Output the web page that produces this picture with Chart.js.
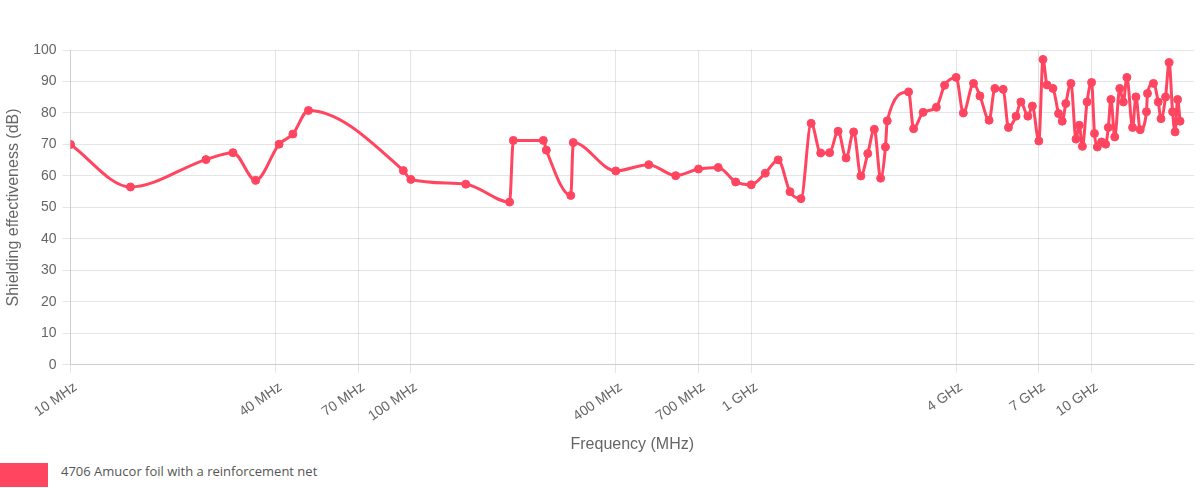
<!DOCTYPE html>
<html>
<head>
<meta charset="utf-8">
<script src="https://cdn.jsdelivr.net/npm/chart.js@4/dist/chart.umd.min.js"></script>
<style>
    html, body { margin: 0; padding: 0; background: #fff; }
    #wrap { width: 1200px; height: 458px; position: relative; }
    #legend { display: flex; align-items: flex-start; margin-top: 5px; height: 24px;
              font-family: 'Open Sans', sans-serif; font-size: 13px; line-height: 16px; color: #555; }
    #legend .box { width: 48px; height: 24px; margin-right: 13px; }
</style>
</head>
<body>
<div id="wrap"><canvas id="seChart"></canvas></div>
<div id="legend"></div>
<script>
// frequency in MHz, shielding effectiveness in dB
const frequencies = [
    10, 15, 25, 30, 35, 41, 45, 50, 95, 100,
    145, 195, 200, 245, 250, 295, 300, 400, 500, 600,
    700, 800, 900, 1000, 1100, 1200, 1300, 1400, 1500, 1600,
    1700, 1800, 1900, 2000, 2100, 2200, 2300, 2400, 2480, 2510,
    2900, 3000, 3200, 3500, 3700, 4000, 4200, 4500, 4700, 5000,
    5200, 5500, 5700, 6000, 6200, 6500, 6700, 7000, 7200, 7400,
    7700, 8000, 8200, 8400, 8700, 9000, 9200, 9400, 9700, 10000,
    10200, 10400, 10700, 11000, 11200, 11400, 11700, 12100, 12400, 12700,
    13200, 13500, 13900, 14500, 14600, 15200, 15700, 16000, 16500, 16900,
    17300, 17600, 17900, 18200
];
const shielding = [
    70, 56.5, 65.2, 67.4, 58.6, 70.1, 73.3, 80.8, 61.7, 58.9,
    57.4, 51.7, 71.3, 71.3, 68.2, 53.8, 70.6, 61.6, 63.6, 60.1,
    62.2, 62.7, 58.1, 57.2, 60.9, 65.1, 55, 52.8, 76.7, 67.3,
    67.4, 74.2, 65.7, 74, 60, 67.1, 74.8, 59.3, 69.2, 77.5,
    86.7, 75, 80.2, 81.8, 88.8, 91.3, 80, 89.4, 85.4, 77.7,
    87.8, 87.5, 75.4, 79, 83.5, 79, 82.2, 71.1, 97, 88.9,
    87.8, 79.8, 77.4, 83, 89.4, 71.7, 76.1, 69.4, 83.5, 89.7,
    73.5, 69.2, 70.8, 70.1, 75.4, 84.3, 72.4, 87.8, 83.5, 91.3,
    75.4, 85.1, 74.7, 80.4, 86.2, 89.4, 83.5, 78.2, 85.1, 96,
    80.4, 74, 84.3, 77.4
];
const xTickValues = [10, 40, 70, 100, 400, 700, 1000, 4000, 7000, 10000];
const xTickLabels = ['10 MHz', '40 MHz', '70 MHz', '100 MHz', '400 MHz', '700 MHz', '1 GHz', '4 GHz', '7 GHz', '10 GHz'];

const seriesLabel = '4706 Amucor foil with a reinforcement net';
const seriesColor = '#FF4560';

const points = frequencies.map((f, i) => ({ x: f, y: shielding[i] }));

// simple html legend under the canvas
const legend = document.getElementById('legend');
legend.innerHTML = '<span class="box" style="background:' + seriesColor + '"></span><span>' + seriesLabel + '</span>';

Chart.defaults.font.family = "'Liberation Sans', Arial, sans-serif";
Chart.defaults.color = '#666';

new Chart(document.getElementById('seChart'), {
    type: 'line',
    data: {
        datasets: [{
            label: seriesLabel,
            data: points,
            borderColor: seriesColor,
            backgroundColor: seriesColor,
            borderWidth: 3,
            pointRadius: 4,
            pointBorderWidth: 1,
            cubicInterpolationMode: 'monotone',
            fill: false
        }]
    },
    options: {
        responsive: true,
        maintainAspectRatio: false,
        animation: false,
        layout: { padding: { top: 50, right: 6, left: 0, bottom: 0 } },
        plugins: {
            legend: { display: false },
            tooltip: { enabled: false }
        },
        scales: {
            x: {
                type: 'logarithmic',
                min: 10,
                max: 20000,
                afterBuildTicks: (scale) => {
                    scale.ticks = xTickValues.map(v => ({ value: v }));
                },
                ticks: {
                    font: { size: 14 },
                    minRotation: 35,
                    maxRotation: 35,
                    padding: 6,
                    labelOffset: 5,
                    autoSkip: false,
                    callback: (value) => {
                        const idx = xTickValues.indexOf(value);
                        return idx >= 0 ? xTickLabels[idx] : '';
                    }
                },
                title: { display: true, text: 'Frequency (MHz)', font: { size: 16 } }
            },
            y: {
                min: 0,
                max: 100,
                ticks: { stepSize: 10, padding: 6, font: { size: 14 } },
                title: { display: true, text: 'Shielding effectiveness (dB)', font: { size: 16 } }
            }
        }
    }
});
</script>
</body>
</html>
